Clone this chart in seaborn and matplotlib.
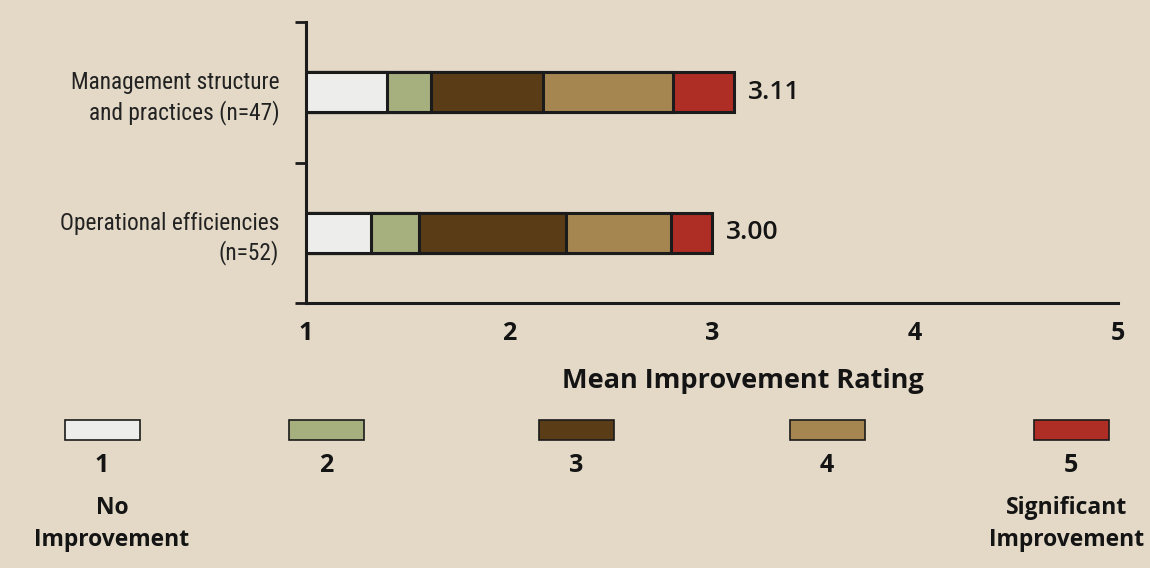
import numpy as np
import pandas as pd
import matplotlib
matplotlib.use("Agg")
import matplotlib.pyplot as plt
from matplotlib import font_manager as fm
from matplotlib.patches import Rectangle
import seaborn as sns

# ---- data -------------------------------------------------------------
categories = ["Management structure\nand practices (n=47)",
              "Operational efficiencies\n(n=52)"]
ratings = ["1", "2", "3", "4", "5"]
# share of the mean-rating bar taken by each rating level (units of the x scale)
mgmt_segments = [0.40, 0.22, 0.55, 0.64, 0.30]
ops_segments = [0.32, 0.24, 0.72, 0.52, 0.20]
mean_ratings = [3.11, 3.00]
x_ticks = [1, 2, 3, 4, 5]
legend_low = "No\nImprovement"
legend_high = "Significant\nImprovement"
x_title = "Mean Improvement Rating"

# ---- fonts ------------------------------------------------------------
_installed = {f.name for f in fm.fontManager.ttflist}


def font_list(candidates):
    return [c for c in candidates if c in _installed][:1] + ["DejaVu Sans"]


CONDENSED = font_list(["Roboto Condensed", "IBM Plex Sans Condensed",
                       "Liberation Sans Narrow"])
ROUND = font_list(["Open Sans", "Lato"])

# ---- style ------------------------------------------------------------
BG = "#E3D9C6"
colors = ["#EDEEEC", "#A6AF7E", "#5A3D17", "#A58651", "#AE2D25"]
EDGE = "#1b1b1b"
TEXT = "#141414"

sns.set_theme(style="white")
plt.rcParams["font.family"] = ROUND

fig = plt.figure(figsize=(11.5, 5.68), dpi=100, facecolor=BG)
ax = fig.add_axes([0.2657, 0.4665, 0.7065, 0.4948])
ax.set_facecolor(BG)

seg = np.array([mgmt_segments, ops_segments])
ends = 1 + np.cumsum(seg, axis=1)

# stacked look: draw cumulative bars from the longest to the shortest
for k in range(len(ratings) - 1, -1, -1):
    df = pd.DataFrame({"category": categories, "end": ends[:, k]})
    sns.barplot(data=df, x="end", y="category", orient="h", color=colors[k],
                saturation=1, width=0.285, edgecolor=EDGE, linewidth=2.2, ax=ax)

ax.set_xlim(1, 5)
ax.set_ylim(1.5, -0.5)

for i, m in enumerate(mean_ratings):
    ax.annotate(f"{m:.2f}", xy=(m, i), xytext=(10, 0), textcoords="offset points",
                va="center", ha="left", fontsize=19, fontweight="semibold",
                color=TEXT, family=ROUND)

# axes dressing
for s in ["top", "right"]:
    ax.spines[s].set_visible(False)
for s in ["left", "bottom"]:
    ax.spines[s].set_color(EDGE)
    ax.spines[s].set_linewidth(2.2)

ax.set_xticks(x_ticks)
ax.set_xticklabels([str(t) for t in x_ticks], fontsize=18, fontweight="bold",
                   color=TEXT, family=ROUND)
ax.tick_params(axis="x", direction="out", length=7, width=1.5, color=EDGE, pad=6)
ax.set_yticks([0, 1])
ax.set_yticklabels(categories, fontsize=16.8, color="#222222", linespacing=1.3,
                   family=CONDENSED)
ax.tick_params(axis="y", which="major", length=0, pad=19)
ax.set_yticks([-0.5, 0.5, 1.5], minor=True)
ax.tick_params(axis="y", which="minor", direction="out", length=8, width=2,
               color=EDGE, left=True)
ax.set_xlabel(x_title, fontsize=19.5, fontweight="bold", color=TEXT, family=ROUND)
ax.xaxis.set_label_coords(0.538, -0.232)
ax.set_ylabel("")

# ---- rating key below the chart ---------------------------------------
key_x = [102, 326, 576, 827, 1071]          # swatch centres in pixels
W, H = fig.get_size_inches() * fig.dpi
sw_w, sw_h = 75, 20
for x, c, r in zip(key_x, colors, ratings):
    fig.patches.append(Rectangle(((x - sw_w / 2) / W, 1 - 440 / H), sw_w / W, sw_h / H,
                                 transform=fig.transFigure, facecolor=c,
                                 edgecolor=EDGE, linewidth=1.2))
    fig.text(x / W, 1 - 466 / H, r, ha="center", va="center", fontsize=18,
             fontweight="bold", color=TEXT, family=ROUND)

fig.text(112 / W, 1 - 524 / H, legend_low, ha="center", va="center",
         fontsize=16.5, fontweight="bold", color=TEXT, family=ROUND, linespacing=1.4)
fig.text(1067 / W, 1 - 524 / H, legend_high, ha="center", va="center",
         fontsize=16.5, fontweight="bold", color=TEXT, family=ROUND, linespacing=1.4)

fig.savefig("out.png", dpi=100, facecolor=BG)
